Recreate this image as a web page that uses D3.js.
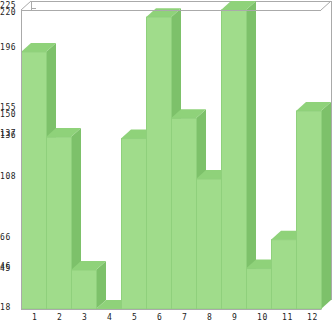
<!DOCTYPE html>
<html>
<head>
<meta charset="utf-8">
<script src="https://cdnjs.cloudflare.com/ajax/libs/d3/7.8.5/d3.min.js"></script>
<style>
  html, body { margin: 0; padding: 0; background: #fff; }
  text { font-family: "DejaVu Sans Mono", monospace; font-size: 8px; letter-spacing: 0.6px; fill: #222; }
</style>
</head>
<body>
<svg id="chart"></svg>
<script>
const width = 333;
const height = 321;

// data
const categories = ["1", "2", "3", "4", "5", "6", "7", "8", "9", "10", "11", "12"];
const values = [196, 137, 45, 18, 136, 220, 150, 108, 225, 46, 66, 155];

const plotLeft = 21, plotRight = 321, plotTop = 10, plotFloor = 309;
const dx = 10, dy = 9; // 3d depth offset

const svg = d3.select("#chart")
  .attr("width", width)
  .attr("height", height);

const x = d3.scaleBand()
  .domain(categories)
  .range([plotLeft, plotRight])
  .padding(0);

// the axis runs from the smallest to the largest value
const y = d3.scaleLinear()
  .domain(d3.extent(values))
  .range([plotFloor, plotTop]);

// value labels sit on a slightly taller scale than the bars
const yLabel = d3.scaleLinear()
  .domain(d3.extent(values))
  .range([307, 5]);

// back wall lines
const back = svg.append("g")
  .attr("stroke", "#aaa")
  .attr("fill", "none")
  .attr("shape-rendering", "crispEdges");
back.append("line").attr("x1", plotLeft + dx).attr("x2", plotRight + dx).attr("y1", plotTop - dy).attr("y2", plotTop - dy);
back.append("line").attr("x1", plotRight + dx).attr("x2", plotRight + dx).attr("y1", plotTop - dy).attr("y2", plotFloor - dy);
back.append("line").attr("x1", plotLeft + dx).attr("x2", plotLeft + dx).attr("y1", plotTop - dy).attr("y2", plotTop);
back.append("line").attr("x1", plotLeft + dx).attr("x2", plotLeft + dx + 5).attr("y1", y(220) - dy).attr("y2", y(220) - dy);
back.append("line").attr("x1", plotLeft).attr("x2", plotLeft + dx).attr("y1", plotTop).attr("y2", plotTop - dy)
  .attr("shape-rendering", "auto");
back.append("line").attr("x1", plotRight).attr("x2", plotRight + dx).attr("y1", plotTop).attr("y2", plotTop - dy)
  .attr("shape-rendering", "auto");

// bars
const bars = svg.append("g")
  .selectAll("g")
  .data(values)
  .enter()
  .append("g");

bars.append("path")
  .attr("fill", "#7dc16a")
  .attr("d", (d, i) => {
    const x1 = x(categories[i]) + x.bandwidth();
    const yt = y(d);
    return `M${x1},${yt}L${x1 + dx},${yt - dy}L${x1 + dx},${plotFloor - dy}L${x1},${plotFloor}Z`;
  });

bars.append("path")
  .attr("fill", "#8fd27a")
  .attr("d", (d, i) => {
    const x0 = x(categories[i]);
    const x1 = x0 + x.bandwidth();
    const yt = y(d);
    return `M${x0},${yt}L${x0 + dx},${yt - dy}L${x1 + dx},${yt - dy}L${x1},${yt}Z`;
  });

bars.append("rect")
  .attr("x", (d, i) => x(categories[i]) + 0.5)
  .attr("y", d => y(d))
  .attr("width", x.bandwidth())
  .attr("height", d => plotFloor - y(d))
  .attr("fill", "#a0dc8b")
  .attr("stroke", "#8fd07c")
  .attr("stroke-width", 1);

// front frame
svg.append("path")
  .attr("fill", "none")
  .attr("stroke", "#aaa")
  .attr("shape-rendering", "crispEdges")
  .attr("d", `M${plotLeft},${plotTop}L${plotRight},${plotTop}M${plotLeft},${plotTop}L${plotLeft},${plotFloor}L${plotRight},${plotFloor}`);

// value labels on the left
svg.append("g")
  .selectAll("text")
  .data(values)
  .enter()
  .append("text")
  .attr("x", 0)
  .attr("y", d => yLabel(d) + 3)
  .text(d => d);

// category labels
svg.append("g")
  .selectAll("text")
  .data(categories)
  .enter()
  .append("text")
  .attr("x", d => x(d) + x.bandwidth() / 2 - 1.5)
  .attr("y", 320)
  .text(d => d);
</script>
</body>
</html>
